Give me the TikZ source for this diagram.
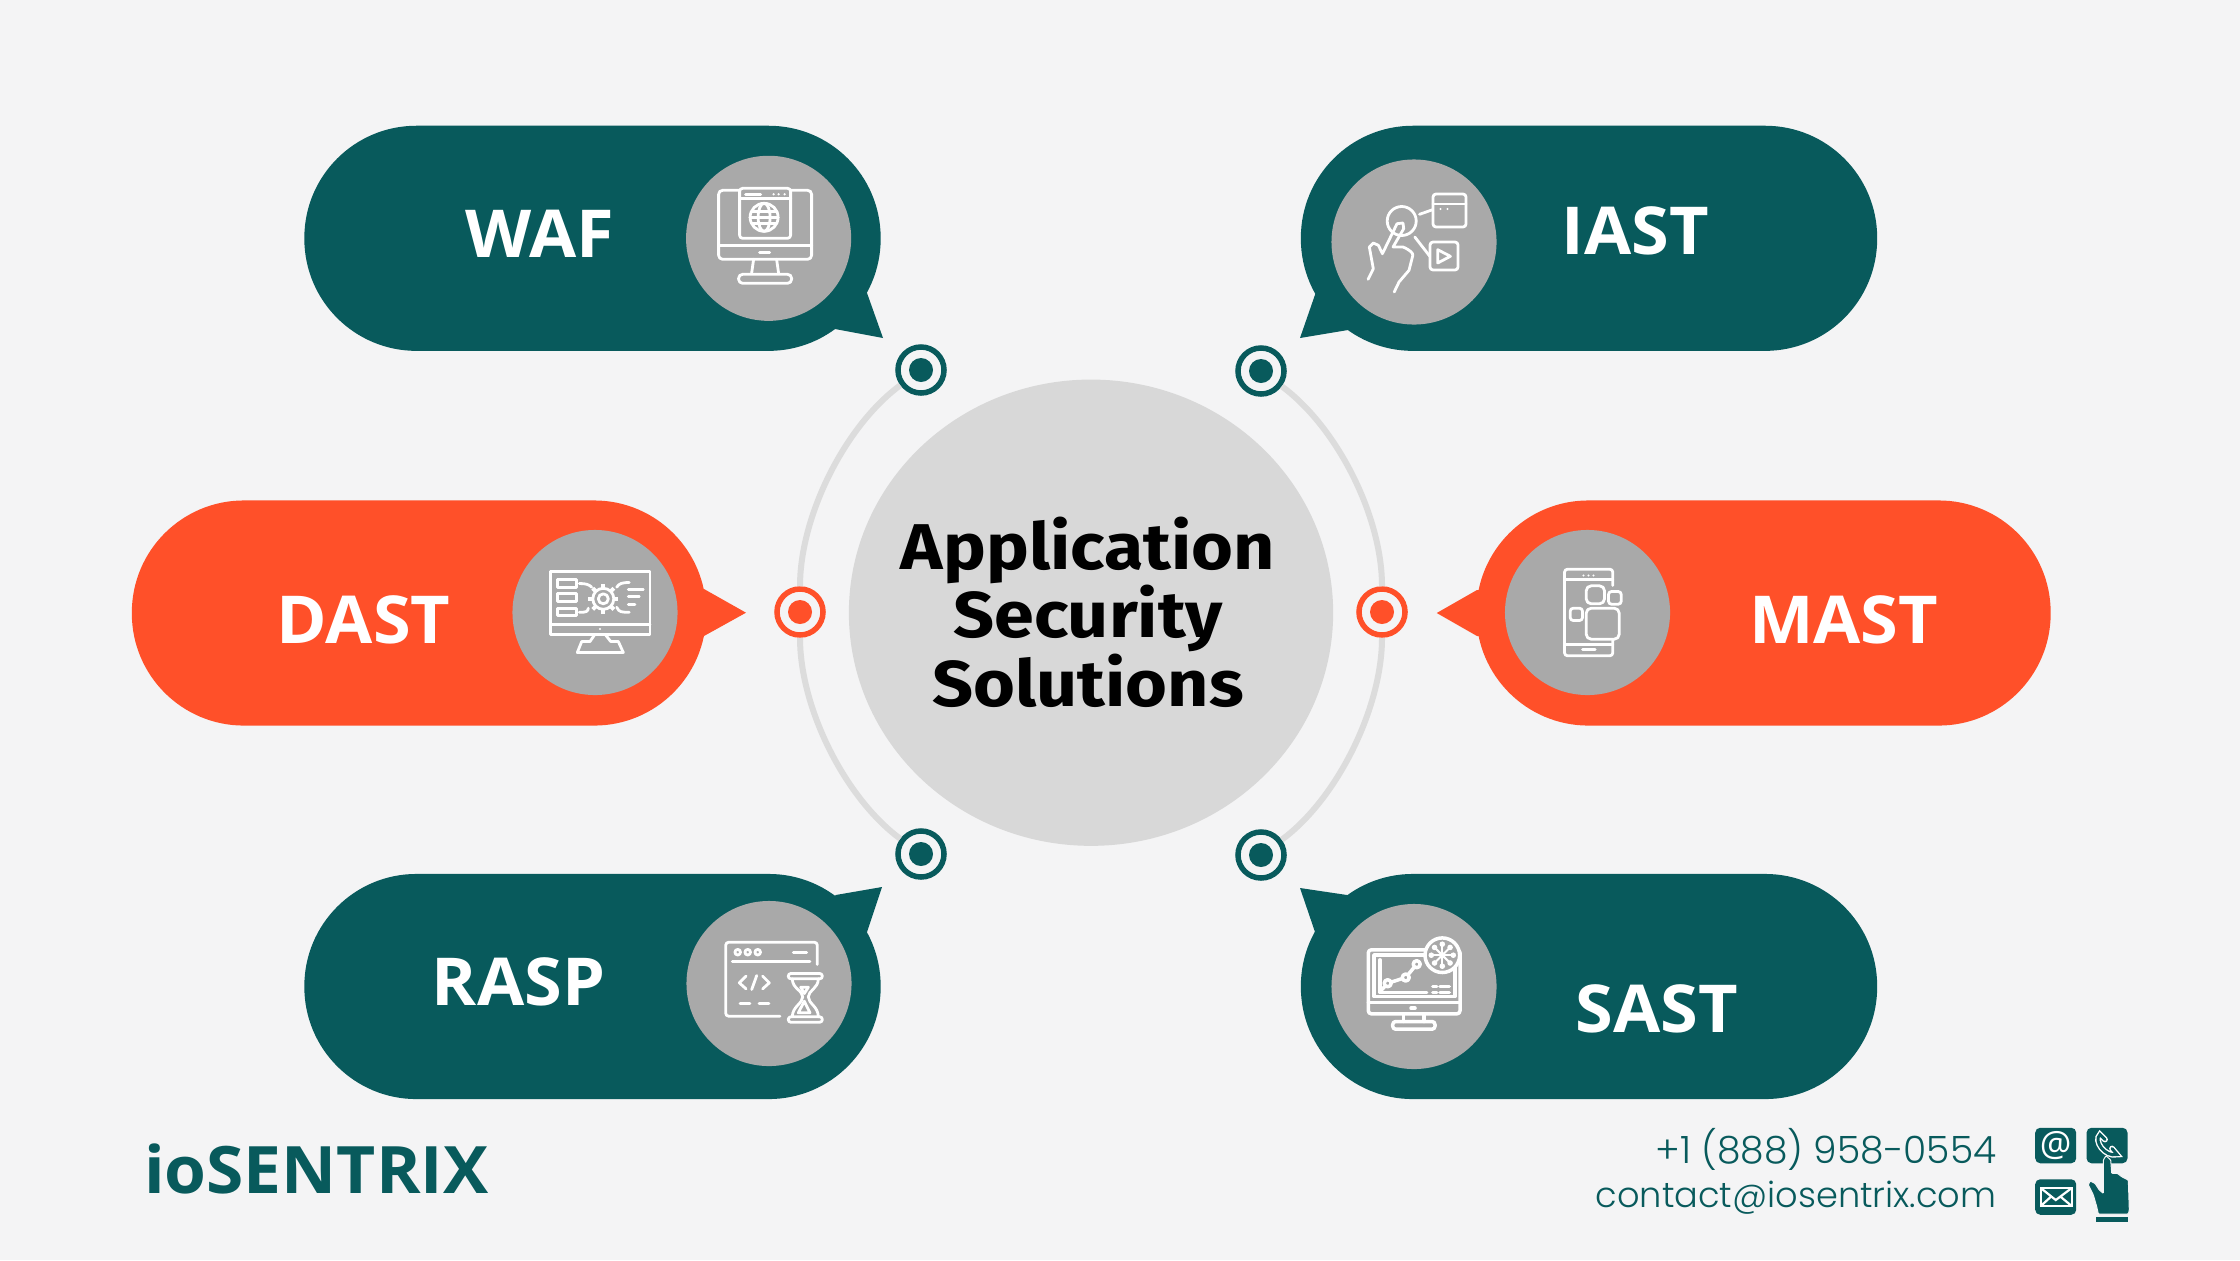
\documentclass[tikz,border=0pt]{standalone}
\usepackage{fontspec}
\setmainfont{Open Sans}
\newfontfamily\pillfont[FakeStretch=1.035]{Open Sans}
\newfontfamily\titlefont[FakeStretch=1.11]{Fira Sans}
\newfontfamily\footfont{Poppins Light}
\usetikzlibrary{positioning,shapes.geometric,calc}
\definecolor{paper}{HTML}{F4F4F5}
\definecolor{petrol}{HTML}{085A5C}
\definecolor{flame}{HTML}{FF5029}
\definecolor{disc}{HTML}{A9A9A9}
\definecolor{hub}{HTML}{D8D8D8}
\definecolor{ring}{HTML}{DCDCDC}
\tikzset{
  pill/.style={rectangle,rounded corners=1.12cm,inner sep=0pt,minimum height=2.25cm},
  tealpill/.style={pill,fill=petrol,minimum width=5.76cm},
  redpill/.style={pill,fill=flame,minimum width=5.74cm},
  icondisc/.style={circle,fill=disc,inner sep=0pt,minimum size=1.65cm},
  pilltext/.style={anchor=base,text=white,font=\pillfont\fontsize{18.8}{22}\selectfont\bfseries},
  dot/.style={circle,fill=paper,inner sep=0pt,minimum size=.46cm,line width=.055cm,draw=#1,
    path picture={\fill[#1] (path picture bounding box.center) circle (12);}},
  icon/.style={white,line width=.028cm,line cap=round,line join=round},
  ringline/.style={ring,line width=.06cm},
  foottext/.style={anchor=base east,inner sep=0pt,text=petrol},
  footbox/.style={rectangle,fill=petrol,rounded corners=.05cm,inner sep=0pt,minimum width=.41cm,minimum height=.355cm}
}
\begin{document}
\begin{tikzpicture}[x=.01cm,y=-.01cm]
  \fill[paper] (0,0) rectangle (2240,1260);
  % pills and their tails
  \fill[petrol] (867,293) -- (883,338) -- (835,329) -- (800,280) -- cycle;
  \fill[petrol] (1315.6,293) -- (1300,338) -- (1348,330) -- (1380,280) -- cycle;
  \fill[flame] (690,589) -- (704,589) -- (746,612.7) -- (704,636) -- (690,636) -- cycle;
  \fill[flame] (1490,590) -- (1477,590) -- (1436.7,613) -- (1477,636) -- (1490,636) -- cycle;
  \fill[petrol] (867,932) -- (882,887) -- (835.7,895) -- (800,945) -- cycle;
  \fill[petrol] (1315,932) -- (1300,888) -- (1347,895) -- (1380,945) -- cycle;
  \node[tealpill] (wafpill) at (592.5,238.3) {};
  \node[tealpill] (iastpill) at (1589,238.3) {};
  \node[redpill] (dastpill) at (419,613) {};
  \node[redpill] (mastpill) at (1763.5,613) {};
  \node[tealpill] (rasppill) at (592.5,986.5) {};
  \node[tealpill] (sastpill) at (1589,986.5) {};
  % labels
  \node[pilltext] (waf) at (540,257.7) {WAF};
  \node[pilltext] (iast) at (1635,254) {IAST};
  \node[pilltext] (dast) at (363.6,643) {DAST};
  \node[pilltext] (mast) at (1843.5,643) {MAST};
  \node[pilltext] (rasp) at (518.5,1005) {RASP};
  \node[pilltext] (sast) at (1657,1032) {SAST};
  % grey discs
  \node[icondisc] (wafdisc) at (768.6,238.3) {};
  \node[icondisc] (iastdisc) at (1414,242) {};
  \node[icondisc] (dastdisc) at (595,612.5) {};
  \node[icondisc] (mastdisc) at (1587.5,612.5) {};
  \node[icondisc] (raspdisc) at (769,983.5) {};
  \node[icondisc] (sastdisc) at (1414,986.5) {};
  % centre
  \node[ellipse,fill=hub,inner sep=0pt,minimum width=4.84cm,minimum height=4.66cm] (hub) at (1091,612.7) {};
  \node[align=center,text=black,font=\titlefont\fontsize{18.4}{18.5}\selectfont\bfseries] (title) at (1088,612) {Application\\[-.5pt]Security\\[-.5pt]Solutions};
  \node[dot=petrol] (wafdot) at (921,370) {};
  \node[dot=petrol] (iastdot) at (1261,371) {};
  \node[dot=flame] (dastdot) at (800,612) {};
  \node[dot=flame] (mastdot) at (1382,612) {};
  \node[dot=petrol] (raspdot) at (921,854) {};
  \node[dot=petrol] (sastdot) at (1261,855) {};
  \draw[ringline] (wafdot) .. controls (845,426) and (800,516) .. (dastdot);
  \draw[ringline] (dastdot) .. controls (800,708) and (845,798) .. (raspdot);
  \draw[ringline] (iastdot) .. controls (1337,427) and (1382,516) .. (mastdot);
  \draw[ringline] (mastdot) .. controls (1382,708) and (1337,799) .. (sastdot);
  % waf icon
  \begin{scope}[shift={(wafdisc.center)},icon]
    \draw[rounded corners=.04cm] (-50,-48) rectangle (43,21);
    \draw (-50,7) -- (43,7);
    \draw (-9,14) -- (1,14);
    \draw (-15,21) -- (-17,35);
    \draw (8,21) -- (10,35);
    \draw[rounded corners=.04cm] (-30,36) rectangle (23,45);
    \draw[fill=disc,rounded corners=.03cm] (-29,-50) rectangle (22,0);
    \draw (-29,-40) -- (22,-40);
    \draw (-23,-44) -- (-8,-44);
    \foreach \dx in {5,10,16} \fill (\dx,-44) circle (1.2);
    \draw (-4.5,-21) circle (14);
    \draw (-4.5,-21) ellipse (6 and 14);
    \draw (-18.5,-21) -- (9.5,-21) (-17,-27) -- (8,-27) (-17,-15) -- (8,-15);
  \end{scope}
  % iast icon
  \begin{scope}[shift={(iastdisc.center)},icon]
    \draw[rounded corners=.03cm] (19,-48) rectangle (52,-15);
    \draw (19,-38) -- (52,-38);
    \foreach \dx in {26.5,33.5} \fill (\dx,-33) circle (1.2);
    \draw (5.5,-27.7) -- (18.6,-32.3);
    \draw[rounded corners=.03cm] (16,0) rectangle (44,28);
    \draw (23.7,7.7) -- (23.7,21) -- (36.4,14.3) -- cycle;
    \draw (0.8,-5) -- (15.8,14.3);
    \draw (-12.3,-21) circle (14.5);
    \draw (-45.9,37.3) -- (-40.7,26.7) -- (-44.7,5) -- (-40.7,1) -- (-35.6,3.3) -- (-31.6,11.7)
      -- (-17,-18.3) -- (-11,-19) -- (-10.3,-13.3) -- (-21,5) -- (-11,5)
      .. controls (-4,8) and (-1,11) .. (-1.2,13.3) -- (-5,28.3) -- (-15,40) -- (-19.8,50);
  \end{scope}
  % dast icon
  \begin{scope}[shift={(dastdisc.center)},icon]
    \draw (-44.3,-41) rectangle (55,21.7);
    \draw (-44.3,12.3) -- (55,12.3);
    \fill (5,16.5) circle (1.2);
    \draw (0,21.7) -- (-5,29) -- (-13.3,29) -- (-17.7,40) -- (28.3,40) -- (23.3,29) -- (15.7,29) -- (10,21.7);
    \draw (-37.7,-32.7) rectangle (-18.3,-25.3);
    \draw (-37.7,-18.7) rectangle (-18.3,-11);
    \draw (-37.7,-4.3) rectangle (-18.3,3);
    \draw (-15.7,-29) .. controls (-9,-29) and (-6,-28) .. (-3.3,-25.3);
    \draw (-15.7,-0.3) .. controls (-9,0) and (-7,-1) .. (-6.7,-4.3);
    \draw (21.7,-25.3) .. controls (24,-29) and (27,-30) .. (34.3,-30);
    \draw (21.7,-5.3) .. controls (24,0) and (27,-0.3) .. (34.3,-0.3);
    \draw (33.3,-22.7) -- (48.3,-22.7) (33.3,-16) -- (44.3,-16) (33.3,-8.3) -- (40,-8.3);
    \draw (8.3,-13.7) circle (10.5) (8.3,-13.7) circle (5);
    \foreach \a in {0,45,...,315}
      \draw[line width=.04cm,line cap=butt] ($(8.3,-13.7)+(\a:10.5)$) -- ($(8.3,-13.7)+(\a:15)$);
  \end{scope}
  % mast icon
  \begin{scope}[shift={(mastdisc.center)},icon]
    \draw[rounded corners=.03cm] (25.3,-27) -- (25.3,-43.3) -- (-23,-43.3) -- (-23,43.3) -- (25.3,43.3) -- (25.3,28);
    \draw (-23,-32.7) -- (25.3,-32.7) (-23,31.7) -- (25.3,31.7);
    \foreach \dx in {-4,1,6} \fill (\dx,-37) circle (1.2);
    \draw (-5,37.3) -- (7.7,37.3);
    \draw[rounded corners=.05cm] (-1.3,-26.7) rectangle (17,-8.7);
    \draw[rounded corners=.03cm] (21,-21) rectangle (33.7,-8.3);
    \draw[rounded corners=.03cm] (-17.3,-4.3) rectangle (-5,8);
    \draw[rounded corners=.05cm] (-1.3,-4.3) rectangle (31.7,26.7);
  \end{scope}
  % rasp icon
  \begin{scope}[shift={(raspdisc.center)},icon]
    \draw[rounded corners=.03cm] (48.3,-19) -- (48.3,-41.3) -- (-43.3,-41.3) -- (-43.3,32.7) -- (11,32.7);
    \draw (-36.7,-22.3) -- (41,-22.3);
    \foreach \dx in {-31.3,-21.3,-11.3} \draw (\dx,-31.3) circle (2.8);
    \draw (24.3,-31.3) -- (37.7,-31.3);
    \draw (-23,-7.3) -- (-29.7,-.7) -- (-23,5.3);
    \draw (-12.3,-8) -- (-17.3,6);
    \draw (-6.3,-7.3) -- (.3,-.7) -- (-6.3,5.3);
    \draw (-29,20.3) -- (-19,20.3) (-10,20.3) -- (0,20.3);
    \draw[rounded corners=.025cm] (19.3,-10) rectangle (53.3,-4.7);
    \draw[rounded corners=.025cm] (19.3,33.3) rectangle (53.3,38.7);
    \draw (23.3,-4.7) .. controls (23.3,5) and (33.7,7) .. (33.7,13.3) .. controls (33.7,20) and (23.3,23) .. (23.3,33.3);
    \draw (49.3,-4.7) .. controls (49.3,5) and (39.3,7) .. (39.3,13.3) .. controls (39.3,20) and (49.3,23) .. (49.3,33.3);
    \draw (31.7,3.7) -- (39.3,3.7) -- (35.3,10) -- cycle;
    \draw (29.3,29.3) -- (35.3,17.7) -- (41,29.3) -- cycle;
  \end{scope}
  % sast icon
  \begin{scope}[shift={(sastdisc.center)},icon,line width=.035cm]
    \draw[rounded corners=.03cm] (-45.7,-36.7) rectangle (46,27.3);
    \draw (-40,-31.5) rectangle (41,10);
    \draw (-45.7,16) -- (46,16);
    \draw (-3,21.7) -- (1,21.7);
    \draw (-10.7,27.3) -- (-10.7,35) (10,27.3) -- (10,35);
    \draw[rounded corners=.03cm] (-21.3,35) rectangle (21,42.7);
    \draw (-34,-26.7) -- (-34,6) -- (12.7,6);
    \draw (-32.3,3.3) -- (-26.3,-3.3) -- (-8.3,-9) -- (2.7,-22.3);
    \foreach \p in {(-26.3,-3.3),(-8.3,-9),(2.7,-22.3)} \draw[fill=disc] \p circle (3.5);
    \draw (18.7,0) -- (22.7,0) (26,0) -- (35.3,0) (18.7,6) -- (22.7,6) (26,6) -- (35.3,6);
    \draw[fill=disc] (28.3,-31.3) circle (17.3);
    \fill (28.3,-31.3) circle (3.3);
    \foreach \a in {0,45,...,315} {
      \draw[line width=.02cm] ($(28.3,-31.3)+(\a:3)$) -- ($(28.3,-31.3)+(\a:11)$);
      \fill ($(28.3,-31.3)+(\a:11)$) circle (2.8);
    }
  \end{scope}
  % footer
  \node[anchor=base west,inner sep=0pt,text=petrol,font=\pillfont\fontsize{18.6}{24}\selectfont\bfseries] (brand) at (143.3,1193) {ioSENTRIX};
  \node[foottext,font=\footfont\fontsize{10.7}{13}\selectfont] (phone) at (1997,1163) {+1 (888) 958-0554};
  \node[foottext,font=\footfont\fontsize{10}{13}\selectfont] (mail) at (1997,1207) {contact@iosentrix.com};
  \node[footbox,text=white,font=\fontsize{10}{11}\selectfont] (atbox) at (2055.7,1145.5) {@};
  \node[footbox] (callbox) at (2107,1145.5) {};
  \node[footbox] (mailbox) at (2055.7,1197) {};
  \begin{scope}[shift={(callbox.center)},white,line cap=round]
    \draw[line width=.014cm,double=petrol,double distance=.03cm] (-2,-6) -- (-7,-11) .. controls (-14,-5) and (-2,12) .. (10,9) -- (5,3);
  \end{scope}
  \begin{scope}[shift={(mailbox.center)},white,line width=.022cm]
    \draw (-15,-9) rectangle (16,9);
    \draw (-15,-9) -- (0,3) -- (16,-9) (-15,9) -- (-4,-1) (16,9) -- (4,-1);
  \end{scope}
  % pointing hand
  \fill[petrol,draw=paper,line width=.01cm,rounded corners=.008cm] (2103.3,1160) -- (2106,1155.7) -- (2110.7,1160) -- (2111.7,1173.3) -- (2117.3,1173.3) -- (2121.7,1176.7)
    -- (2128.3,1180) -- (2129.3,1210) -- (2128.3,1214) -- (2098.3,1214) -- (2096.7,1206.7) -- (2093.3,1195) -- (2088.3,1185)
    -- (2090,1181) -- (2095,1183.3) -- (2099.3,1190) -- (2103.3,1193.3) -- cycle;
  \fill[petrol] (2096,1217) rectangle (2128,1222);
\end{tikzpicture}
\end{document}
